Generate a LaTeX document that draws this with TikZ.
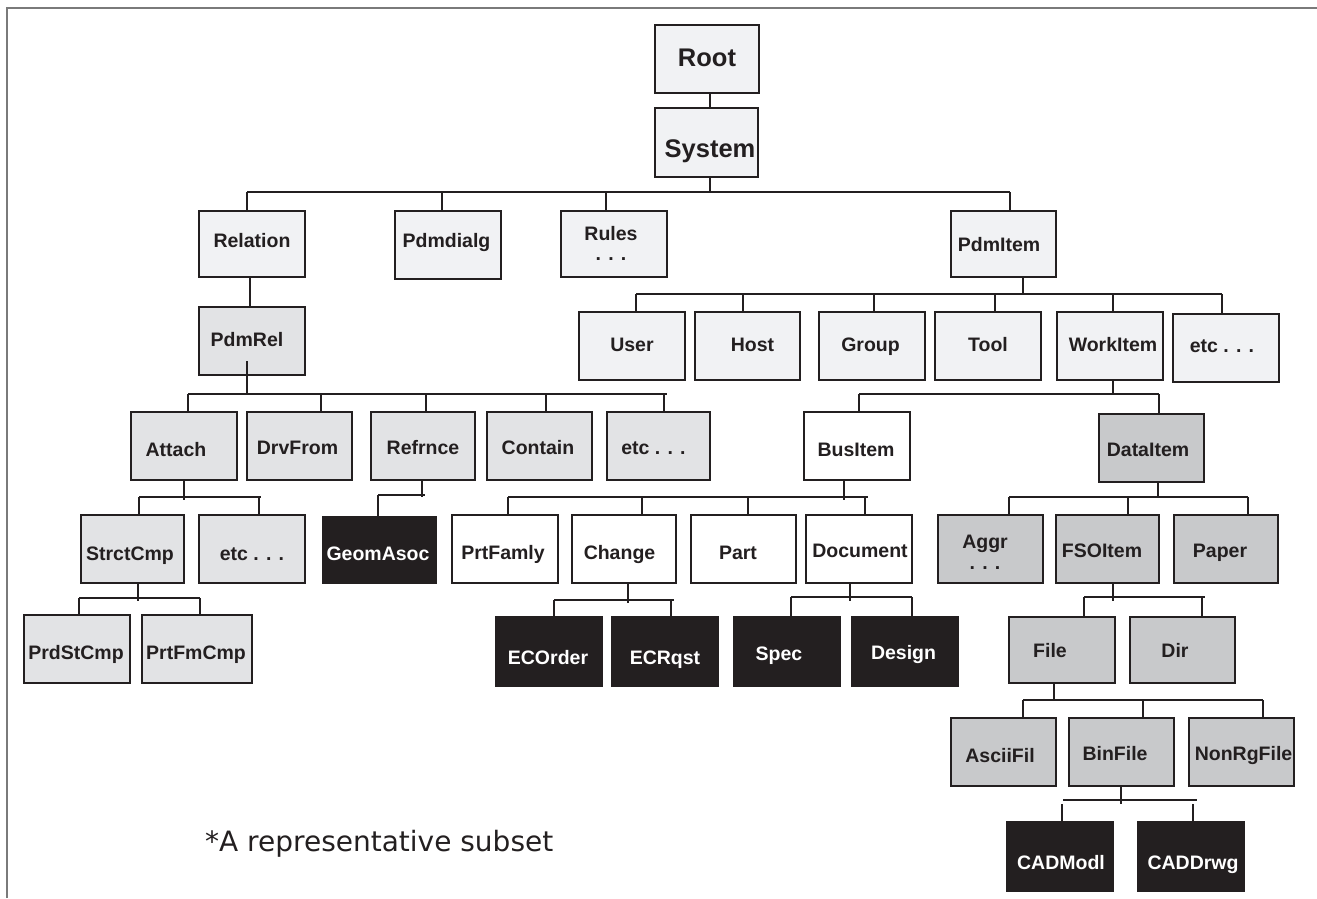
\documentclass[tikz,border=0pt]{standalone}
\usepackage{fontspec}
\setmainfont{Liberation Sans}
\newfontfamily\capfamily{DejaVu Sans}
\definecolor{edgec}{HTML}{231F20}
\definecolor{lightf}{HTML}{F1F2F4}
\definecolor{midf}{HTML}{E2E3E5}
\definecolor{darkf}{HTML}{C8C9CB}
\definecolor{blackf}{HTML}{231F20}
\definecolor{framec}{HTML}{7A7A7A}
\newcommand\tx[3]{\raisebox{-#2pt}{\makebox[0pt]{\hspace{#1pt}\hspace{#1pt}#3}}}
\newcommand\bx[7]{\node[box,#6,minimum width=#4-#2,minimum height=#5-#3] (#1) at ({(#2+#4)/2},{(#3+#5)/2}) {#7};}
\newcommand\dropto[3]{\draw[conn] (#1 -| #2,0) -- (#2,#3);}
\newcommand\hbus[3]{\draw[conn] (#1,#3) -- (#2,#3);}
\begin{document}
\begin{tikzpicture}[x=1pt,y=-1pt,
  box/.style={draw=edgec, line width=1.8pt, text=edgec, font=\fontsize{19.5}{22}\selectfont\bfseries,
    inner sep=0pt, text height=14pt, text depth=0pt},
  big/.style={font=\fontsize{25.5}{28}\selectfont\bfseries, text height=18.3pt},
  fl/.style={fill=lightf}, fm/.style={fill=midf}, fd/.style={fill=darkf},
  fw/.style={fill=white}, fk/.style={fill=blackf, text=white},
  conn/.style={draw=edgec, line width=1.6pt},
  framel/.style={draw=framec, line width=1.5pt}]
\useasboundingbox (0,0) rectangle (1317,898);
\draw[framel] (7,898) -- (7,8) -- (1317,8);

% row 0
\bx{root}{655}{25}{759}{93}{fl,big}{\tx{0}{-2}{Root}}
\bx{system}{655}{108}{758}{177}{fl,big}{\tx{3.5}{6}{System}}
% row 1
\bx{relation}{199}{211}{305}{277}{fl}{\tx{0}{-4}{Relation}}
\bx{pdmdialg}{395}{211}{501}{279}{fl}{\tx{-1.5}{-5}{Pdmdialg}}
\bx{rules}{561}{211}{667}{277}{fl}{\tx{-3}{-11}{Rules}\tx{-3}{9}{. . .}}
\bx{pdmitem}{951}{211}{1056}{277}{fl}{\tx{-4.5}{0}{PdmItem}}
\bx{pdmrel}{199}{307}{305}{375}{fm}{\tx{-5}{-1.5}{PdmRel}}
% pdmitem children
\bx{user}{579}{312}{685}{380}{fl}{\tx{0}{-2}{User}}
\bx{host}{695}{312}{800}{380}{fl}{\tx{5}{-2}{Host}}
\bx{group}{819}{312}{925}{380}{fl}{\tx{-1.5}{-2}{Group}}
\bx{tool}{935}{312}{1041}{380}{fl}{\tx{0}{-2}{Tool}}
\bx{workitem}{1057}{312}{1163}{380}{fl}{\tx{3}{-2}{WorkItem}}
\bx{etcb}{1173}{314}{1279}{382}{fl}{\tx{-4}{-3}{etc . . .}}
% row 2
\bx{attach}{131}{412}{237}{480}{fm}{\tx{-8}{3}{Attach}}
\bx{drvfrom}{247}{412}{352}{480}{fm}{\tx{-2}{1}{DrvFrom}}
\bx{refrnce}{371}{412}{475}{480}{fm}{\tx{0}{1}{Refrnce}}
\bx{contain}{487}{412}{592}{480}{fm}{\tx{-1.5}{1}{Contain}}
\bx{etca}{607}{412}{710}{480}{fm}{\tx{-5}{1}{etc . . .}}
\bx{busitem}{804}{412}{910}{480}{fw}{\tx{-1}{3}{BusItem}}
\bx{dataitem}{1099}{414}{1204}{482}{fd}{\tx{-3.5}{1}{DataItem}}
% row 3
\bx{strctcmp}{81}{515}{184}{583}{fm}{\tx{-2.5}{4}{StrctCmp}}
\bx{etcc}{199}{515}{305}{583}{fm}{\tx{0}{4}{etc . . .}}
\bx{geomasoc}{323}{517}{436}{583}{fk}{\tx{-1.5}{3.5}{GeomAsoc}}
\bx{prtfamly}{452}{515}{558}{583}{fw}{\tx{-2}{3.5}{PrtFamly}}
\bx{change}{572}{515}{676}{583}{fw}{\tx{-4.5}{3.5}{Change}}
\bx{part}{691}{515}{796}{583}{fw}{\tx{-5.5}{3}{Part}}
\bx{document}{806}{515}{912}{583}{fw}{\tx{1}{1}{Document}}
\bx{aggr}{938}{515}{1043}{583}{fd}{\tx{-5.5}{-7.5}{Aggr}\tx{-5.5}{13}{. . .}}
\bx{fsoitem}{1056}{515}{1159}{583}{fd}{\tx{-5.5}{1}{FSOItem}}
\bx{paper}{1174}{515}{1278}{583}{fd}{\tx{-6}{1}{Paper}}
% row 4
\bx{prdstcmp}{24}{615}{130}{683}{fm}{\tx{-1}{3.5}{PrdStCmp}}
\bx{prtfmcmp}{142}{615}{252}{683}{fm}{\tx{-1}{3.5}{PrtFmCmp}}
\bx{ecorder}{496}{617}{602}{686}{fk}{\tx{-1}{5.5}{ECOrder}}
\bx{ecrqst}{612}{617}{718}{686}{fk}{\tx{0}{5.5}{ECRqst}}
\bx{spec}{734}{617}{840}{686}{fk}{\tx{-8}{2}{Spec}}
\bx{design}{852}{617}{958}{686}{fk}{\tx{-1.5}{0.5}{Design}}
\bx{file}{1009}{617}{1115}{683}{fd}{\tx{-12}{0}{File}}
\bx{dir}{1130}{617}{1235}{683}{fd}{\tx{-7.5}{0}{Dir}}
% row 5
\bx{asciifil}{951}{718}{1056}{786}{fd}{\tx{-3.5}{3}{AsciiFil}}
\bx{binfile}{1069}{718}{1174}{786}{fd}{\tx{-6.5}{1}{BinFile}}
\bx{nonrgfile}{1189}{718}{1294}{786}{fd}{\tx{2}{1}{NonRgFile}}
% row 6
\bx{cadmodl}{1007}{822}{1113}{891}{fk}{\tx{1}{5.5}{CADModl}}
\bx{caddrwg}{1138}{822}{1244}{891}{fk}{\tx{2}{5.5}{CADDrwg}}

% connectors
\draw[conn] (root.south -| 710,0) -- (system.north -| 710,0);
% System
\dropto{system.south}{710}{192}
\hbus{247}{1010}{192}
\dropto{relation.north}{247}{192}
\dropto{pdmdialg.north}{442}{192}
\dropto{rules.north}{606}{192}
\dropto{pdmitem.north}{1010}{192}
% Relation -> PdmRel
\draw[conn] (relation.south -| 250,0) -- (pdmrel.north -| 250,0);
% PdmRel
\coordinate (pdmrelstem) at (247,361);
\draw[conn] (pdmrelstem) -- (247,394);
\hbus{188}{667}{394}
\dropto{attach.north}{188}{394}
\dropto{drvfrom.north}{321}{394}
\dropto{refrnce.north}{426}{394}
\dropto{contain.north}{546}{394}
\dropto{etca.north}{664}{394}
% PdmItem
\dropto{pdmitem.south}{1023}{294}
\hbus{636}{1222}{294}
\dropto{user.north}{636}{294}
\dropto{host.north}{743}{294}
\dropto{group.north}{874}{294}
\dropto{tool.north}{995}{294}
\dropto{workitem.north}{1113}{294}
\dropto{etcb.north}{1222}{294}
% WorkItem
\dropto{workitem.south}{1113}{394}
\hbus{859}{1159}{394}
\dropto{busitem.north}{859}{394}
\dropto{dataitem.north}{1159}{394}
% Attach
\dropto{attach.south}{184}{500}
\hbus{139}{261}{497}
\dropto{strctcmp.north}{139}{497}
\dropto{etcc.north}{259}{497}
% Refrnce
\dropto{refrnce.south}{422}{497}
\hbus{378}{425}{495}
\dropto{geomasoc.north}{378}{495}
% BusItem
\dropto{busitem.south}{844}{500}
\hbus{508}{868}{497}
\dropto{prtfamly.north}{508}{497}
\dropto{change.north}{642}{497}
\dropto{part.north}{748}{497}
\dropto{document.north}{865}{497}
% DataItem
\dropto{dataitem.south}{1158}{497}
\hbus{1009}{1248}{497}
\dropto{aggr.north}{1009}{497}
\dropto{fsoitem.north}{1128}{497}
\dropto{paper.north}{1248}{497}
% StrctCmp
\dropto{strctcmp.south}{138}{601}
\hbus{79}{200}{598}
\dropto{prdstcmp.north}{79}{598}
\dropto{prtfmcmp.north}{200}{598}
% Change
\dropto{change.south}{628}{603}
\hbus{554}{674}{600}
\dropto{ecorder.north}{554}{600}
\dropto{ecrqst.north}{671}{600}
% Document
\dropto{document.south}{850}{601}
\hbus{791}{912}{597}
\dropto{spec.north}{791}{597}
\dropto{design.north}{912}{597}
% FSOItem
\dropto{fsoitem.south}{1113}{601}
\hbus{1084}{1205}{597}
\dropto{file.north}{1084}{597}
\dropto{dir.north}{1202}{597}
% File
\dropto{file.south}{1054}{700}
\hbus{1023}{1263}{700}
\dropto{asciifil.north}{1023}{700}
\dropto{binfile.north}{1143}{700}
\dropto{nonrgfile.north}{1263}{700}
% BinFile
\dropto{binfile.south}{1121}{804}
\hbus{1063}{1197}{800}
\dropto{cadmodl.north}{1062}{804}
\dropto{caddrwg.north}{1193}{804}

% caption
\node[font=\capfamily\fontsize{28}{31}\selectfont, text=edgec, anchor=base west, inner sep=0pt] (note) at (205,851.5) {*A representative subset};
\end{tikzpicture}
\end{document}
